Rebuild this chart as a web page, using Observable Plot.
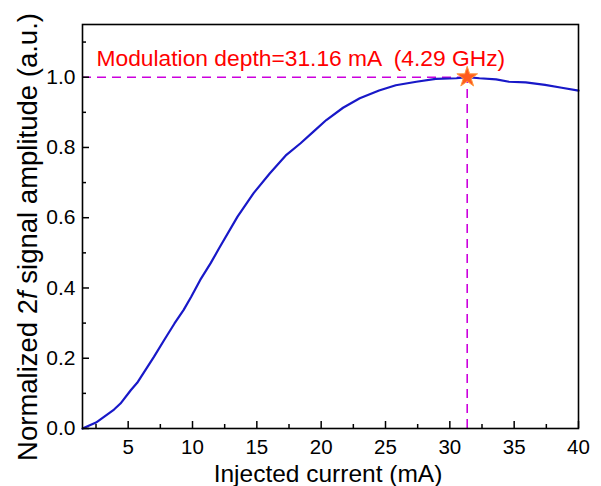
<!DOCTYPE html>
<html>
<head>
<meta charset="utf-8">
<script src="https://cdn.jsdelivr.net/npm/d3@7"></script>
<script src="https://cdn.jsdelivr.net/npm/@observablehq/plot@0.6"></script>
<style>
  body { margin: 0; background: #fff; }
  svg { font-family: "Liberation Sans", Arial, sans-serif; }
  svg text { white-space: pre; }
</style>
</head>
<body>
<div id="chart"></div>
<script>
// ---- data ----
const current = [1.45, 2.5, 3.9, 4.4, 5.2, 5.7, 6.0, 7.0, 7.8, 8.6, 9.3, 9.9, 10.6, 11.4, 12.1, 13.5, 14.75, 16.0, 17.3, 18.4, 19.4, 20.4, 21.7, 23.0, 24.5, 25.8, 27.4, 28.9, 30.5, 31.35, 32.3, 33.6, 34.6, 35.9, 37.4, 38.7, 40];
const amplitude = [0.0, 0.017, 0.054, 0.071, 0.109, 0.13, 0.147, 0.204, 0.252, 0.299, 0.337, 0.375, 0.423, 0.47, 0.515, 0.603, 0.67, 0.726, 0.779, 0.812, 0.845, 0.878, 0.913, 0.94, 0.962, 0.977, 0.987, 0.995, 0.997, 1.0, 0.997, 0.994, 0.987, 0.985, 0.978, 0.97, 0.962];
const xMajorTicks = [5, 10, 15, 20, 25, 30, 35, 40];
const xMinorTicks = [2.5, 7.5, 12.5, 17.5, 22.5, 27.5, 32.5, 37.5];
const yMajorTicks = [0, 0.2, 0.4, 0.6, 0.8, 1.0];
const yMinorTicks = [0.1, 0.3, 0.5, 0.7, 0.9, 1.1];
const xDomain = [1.45, 40];
const yDomain = [0, 1.15];
const markerCurrent = 31.35;   // star position as drawn in the reference
const markerAmplitude = 1.0;
const annotationText = "Modulation depth=31.16 mA  (4.29 GHz)";
const xLabel = "Injected current (mA)";
const yLabelParts = ["Normalized 2", "f", " signal amplitude (a.u.)"];

// ---- layout ----
const W = 601, H = 486;
const mL = 82, mR = 23, mT = 24, mB = 58;
const innerW = W - mL - mR, innerH = H - mT - mB;
const majorLen = 7, minorLen = 4;

const curve = current.map((x, i) => ({x, y: amplitude[i]}));
const marker = [{x: markerCurrent, y: markerAmplitude}];
const guide = "#cc00dd";

const plot = Plot.plot({
  width: W, height: H,
  marginLeft: mL, marginRight: mR, marginTop: mT, marginBottom: mB,
  style: {fontFamily: '"Liberation Sans", Arial, sans-serif', background: "#fff", color: "#000"},
  x: {domain: xDomain},
  y: {domain: yDomain},
  marks: [
    Plot.ruleY(marker, {y: "y", x1: () => xDomain[0], x2: "x", stroke: guide, strokeWidth: 1.6, strokeDasharray: "9,6"}),
    Plot.ruleX(marker, {x: "x", y1: () => yDomain[0], y2: "y", stroke: guide, strokeWidth: 1.6, strokeDasharray: "9,6"}),
    Plot.line(curve, {x: "x", y: "y", stroke: "#1818c8", strokeWidth: 2.2}),
    Plot.dot(marker, {x: "x", y: "y", symbol: "star", r: 6.5, fill: "#ff5a1f", stroke: "#ff9a40", strokeWidth: 1}),
    Plot.text([annotationText], {x: () => xDomain[0], y: () => markerAmplitude, text: d => d, textAnchor: "start", lineAnchor: "middle", dx: 14, dy: -18, fontSize: 22.8, fill: "#ff0000"}),
    Plot.tickX(xMajorTicks, {x: d => d, insetTop: innerH - majorLen, stroke: "#000", strokeWidth: 1.5}),
    Plot.tickX(xMinorTicks, {x: d => d, insetTop: innerH - minorLen, stroke: "#000", strokeWidth: 1.5}),
    Plot.tickY(yMajorTicks, {y: d => d, insetRight: innerW - majorLen, stroke: "#000", strokeWidth: 1.5}),
    Plot.tickY(yMinorTicks, {y: d => d, insetRight: innerW - minorLen, stroke: "#000", strokeWidth: 1.5}),
    Plot.axisX(xMajorTicks, {tickSize: 0, tickPadding: 11, fontSize: 20.5, label: null, fill: "#000"}),
    Plot.axisY(yMajorTicks, {tickSize: 0, tickPadding: 7, fontSize: 21, label: null, tickFormat: d3.format(".1f"), fill: "#000"}),
    Plot.frame({stroke: "#000", strokeWidth: 1.6})
  ]
});

const svg = d3.select(plot);
svg.append("text")
  .attr("x", mL + innerW / 2 - 2)
  .attr("y", 482)
  .attr("text-anchor", "middle")
  .attr("font-size", 24.5)
  .attr("fill", "#000")
  .text(xLabel);
const yl = svg.append("text")
  .attr("transform", `translate(36.5,${mT + innerH / 2 + 11}) rotate(-90)`)
  .attr("text-anchor", "middle")
  .attr("font-size", 27.5)
  .attr("fill", "#000");
yl.append("tspan").text(yLabelParts[0]);
yl.append("tspan").attr("font-style", "italic").text(yLabelParts[1]);
yl.append("tspan").text(yLabelParts[2]);

document.getElementById("chart").appendChild(plot);
</script>
</body>
</html>
